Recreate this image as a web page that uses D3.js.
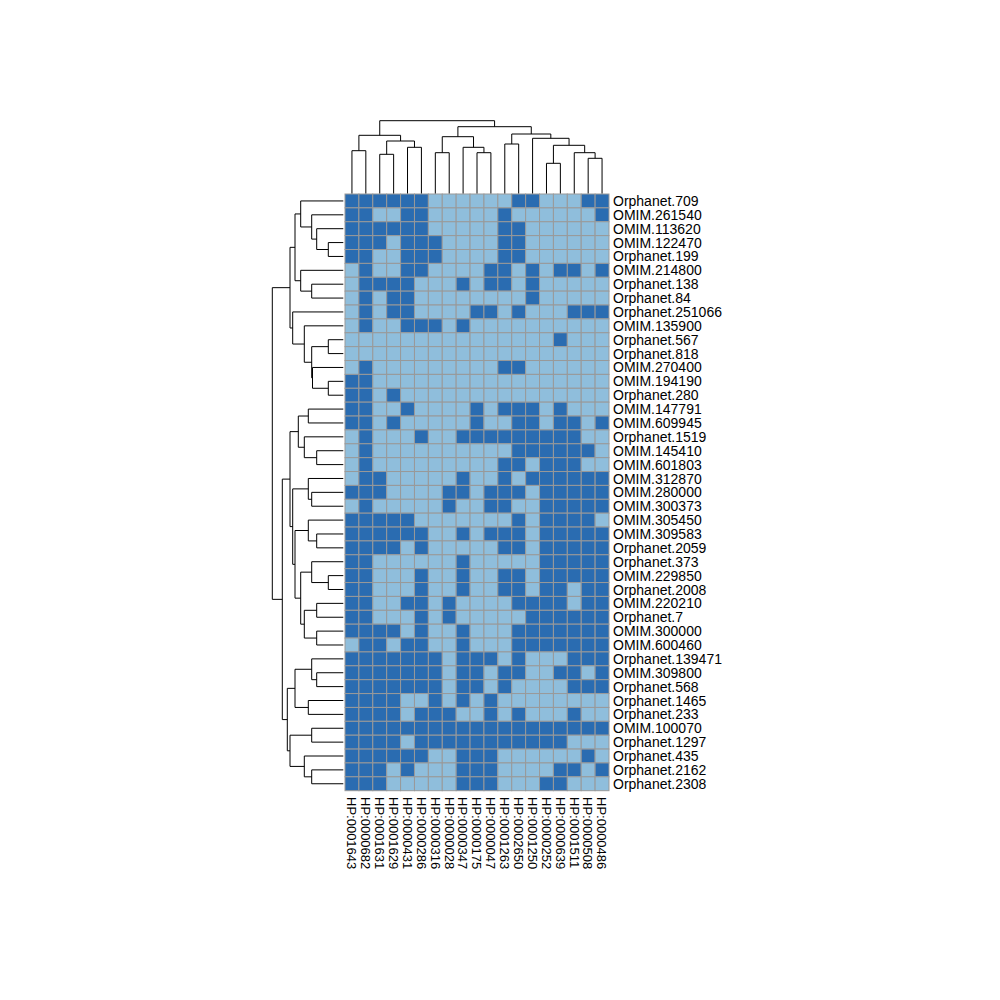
<!DOCTYPE html>
<html>
<head>
<meta charset="utf-8">
<script src="https://cdn.jsdelivr.net/npm/d3@7"></script>
<style>
  body { margin: 0; background: #fff; }
  svg text { font-family: "Liberation Sans", Arial, sans-serif; font-size: 14px; fill: #000; }
  svg text.col-label { font-size: 13px; }
</style>
</head>
<body>
<div id="chart"></div>
<script>
// row labels, top to bottom (clustered order)
var rowLabels = ['Orphanet.709', 'OMIM.261540', 'OMIM.113620', 'OMIM.122470', 'Orphanet.199',
    'OMIM.214800', 'Orphanet.138', 'Orphanet.84', 'Orphanet.251066', 'OMIM.135900',
    'Orphanet.567', 'Orphanet.818', 'OMIM.270400', 'OMIM.194190', 'Orphanet.280',
    'OMIM.147791', 'OMIM.609945', 'Orphanet.1519', 'OMIM.145410', 'OMIM.601803',
    'OMIM.312870', 'OMIM.280000', 'OMIM.300373', 'OMIM.305450', 'OMIM.309583',
    'Orphanet.2059', 'Orphanet.373', 'OMIM.229850', 'Orphanet.2008', 'OMIM.220210',
    'Orphanet.7', 'OMIM.300000', 'OMIM.600460', 'Orphanet.139471', 'OMIM.309800',
    'Orphanet.568', 'Orphanet.1465', 'Orphanet.233', 'OMIM.100070', 'Orphanet.1297',
    'Orphanet.435', 'Orphanet.2162', 'Orphanet.2308'];

// column labels, left to right
var colLabels = ['HP:0001643', 'HP:0000682', 'HP:0001631', 'HP:0001629', 'HP:0000431',
    'HP:0000286', 'HP:0000316', 'HP:0000028', 'HP:0000347', 'HP:0000175',
    'HP:0000047', 'HP:0001263', 'HP:0002650', 'HP:0001250', 'HP:0000252',
    'HP:0000639', 'HP:0001511', 'HP:0000508', 'HP:0000486'];

// presence (1) / absence (0) of each phenotype, one string per row
var cells = [
    '1111110000001100011', '1100110000010000001', '1111110000011000000', '1110111000011000000',
    '1100111000011000000', '0100110000110101101', '0111100010110100000', '0101100000000100000',
    '0101100001101000111', '0100111010000000000', '0000000000000001000', '0000000000000000000',
    '0100000000011000000', '1100000000000000000', '1101000000000000000', '1100100001011101000',
    '1101000001001101101', '0100010011111111100', '0100000000001111110', '0100000000011011100',
    '0110000010010111111', '1110000110111011111', '0100000100110011111', '1111100000001011110',
    '1111110010111011111', '1111010000011011111', '1100000010000011111', '1100010010011011111',
    '1100010010011011011', '1100110100001111011', '1100010100000111111', '1111010010001111111',
    '0110110010001111111', '1111111011101000111', '1111111011011001101', '1111111011010000111',
    '1111001010100000000', '1111011100101000100', '1111111111111111111', '1111011111111111000',
    '1111110011100000010', '1110100011100001101', '1110000011100011000'];

// hclust-style merges: negative = leaf (1-based), positive = earlier merge step
var rowMerge = [[-4, -5], [-3, 1], [-2, 2], [-1, 3], [-7, -8], [-6, 5], [4, 6],
    [-11, -12], [-14, -15], [-13, 9], [8, 10], [-10, 11], [-9, 12], [7, 13],
    [-16, -17], [-19, -20], [-18, 16], [15, 17],
    [-22, -23], [-21, 19], [-25, -26], [-24, 21], [-28, -29], [-27, 23],
    [-30, -31], [-32, -33], [25, 26], [24, 27], [22, 28], [20, 29], [18, 30],
    [-35, -36], [-34, 32], [-37, -38], [33, 34], [-39, -40], [-42, -43], [-41, 37],
    [36, 38], [35, 39], [31, 40], [14, 41]];
var rowHeight = [1.5, 2.66, 3.16, 4.26, 3.16, 4.26, 4.83,
    1.5, 1.5, 3.08, 3.16, 3.9, 5.06, 5.33,
    3.5, 2.66, 3.9, 4.5,
    3.16, 3.5, 2.66, 3.5, 1.5, 3.16,
    2.66, 2.66, 3.9, 4.26, 4.83, 5.06, 5.33,
    2.66, 3.16, 3.5, 4.83, 3.16, 3.16, 3.9,
    5.33, 5.6, 6.1, 7.1];

var colMerge = [[-1, -2], [-3, -4], [-5, -6], [2, 3], [1, 4],
    [-7, -8], [-10, -11], [-9, 7], [6, 8],
    [-12, -13], [-15, -16], [-18, -19], [-17, 12], [11, 13], [-14, 14], [10, 15],
    [9, 16], [5, 17]];
var colHeight = [4.28, 3.92, 4.62, 5.25, 5.82,
    4.08, 4.08, 4.62, 5.68,
    4.95, 3.02, 3.52, 4.08, 4.82, 5.52, 5.95,
    6.68, 7.28];

var W = 1000, H = 1000;
var darkColor = '#2a6cb1', lightColor = '#8fbedc', borderColor = '#999999';

var svg = d3.select('#chart').append('svg')
    .attr('width', W)
    .attr('height', H);

var x = d3.scaleBand().domain(colLabels).range([345, 609]);
var y = d3.scaleBand().domain(rowLabels).range([194, 790.7]);

// heatmap cells
var cellData = [];
cells.forEach(function(row, i) {
    row.split('').forEach(function(v, j) {
        cellData.push({ row: rowLabels[i], col: colLabels[j], value: +v });
    });
});

svg.append('g').selectAll('rect')
    .data(cellData)
    .enter()
    .append('rect')
    .attr('x', function(d) { return x(d.col); })
    .attr('y', function(d) { return y(d.row); })
    .attr('width', x.bandwidth())
    .attr('height', y.bandwidth())
    .attr('fill', function(d) { return d.value ? darkColor : lightColor; })
    .attr('stroke', borderColor)
    .attr('stroke-width', 1);

// row labels
svg.append('g').selectAll('text')
    .data(rowLabels)
    .enter()
    .append('text')
    .attr('x', 613)
    .attr('y', function(d) { return y(d) + y.bandwidth() / 2; })
    .attr('dy', '0.36em')
    .text(function(d) { return d; });

// column labels, rotated to read downward
svg.append('g').selectAll('text')
    .data(colLabels)
    .enter()
    .append('text')
    .attr('class', 'col-label')
    .attr('transform', function(d) {
        return 'translate(' + (x(d) + x.bandwidth() / 2) + ',797) rotate(90)';
    })
    .attr('dy', '0.36em')
    .text(function(d) { return d; });

// turn a merge table into elbow segments, leafPos gives a leaf's centre
function dendroSegments(merge, heights, leafPos) {
    var nodes = [];
    function info(k) {
        if (k < 0) return { p: leafPos(-k - 1), h: 0 };
        return nodes[k - 1];
    }
    var segs = [];
    merge.forEach(function(m, i) {
        var a = info(m[0]), b = info(m[1]), h = heights[i];
        segs.push({ p1: a.p, h1: a.h, p2: b.p, h2: b.h, h: h });
        nodes.push({ p: (a.p + b.p) / 2, h: h });
    });
    return segs;
}

// row dendrogram (left)
var rowH = d3.scaleLinear().domain([0, d3.max(rowHeight)]).range([343.3, 272.3]);
var rowSegs = dendroSegments(rowMerge, rowHeight, function(i) {
    return y(rowLabels[i]) + y.bandwidth() / 2;
});
svg.append('g').selectAll('path')
    .data(rowSegs)
    .enter()
    .append('path')
    .attr('fill', 'none')
    .attr('stroke', '#000')
    .attr('stroke-width', 1)
    .attr('d', function(s) {
        return 'M' + rowH(s.h1) + ',' + s.p1 + 'H' + rowH(s.h) + 'V' + s.p2 + 'H' + rowH(s.h2);
    });

// column dendrogram (top)
var colH = d3.scaleLinear().domain([0, d3.max(colHeight)]).range([193.5, 120.7]);
var colSegs = dendroSegments(colMerge, colHeight, function(i) {
    return x(colLabels[i]) + x.bandwidth() / 2;
});
svg.append('g').selectAll('path')
    .data(colSegs)
    .enter()
    .append('path')
    .attr('fill', 'none')
    .attr('stroke', '#000')
    .attr('stroke-width', 1)
    .attr('d', function(s) {
        return 'M' + s.p1 + ',' + colH(s.h1) + 'V' + colH(s.h) + 'H' + s.p2 + 'V' + colH(s.h2);
    });
</script>
</body>
</html>
